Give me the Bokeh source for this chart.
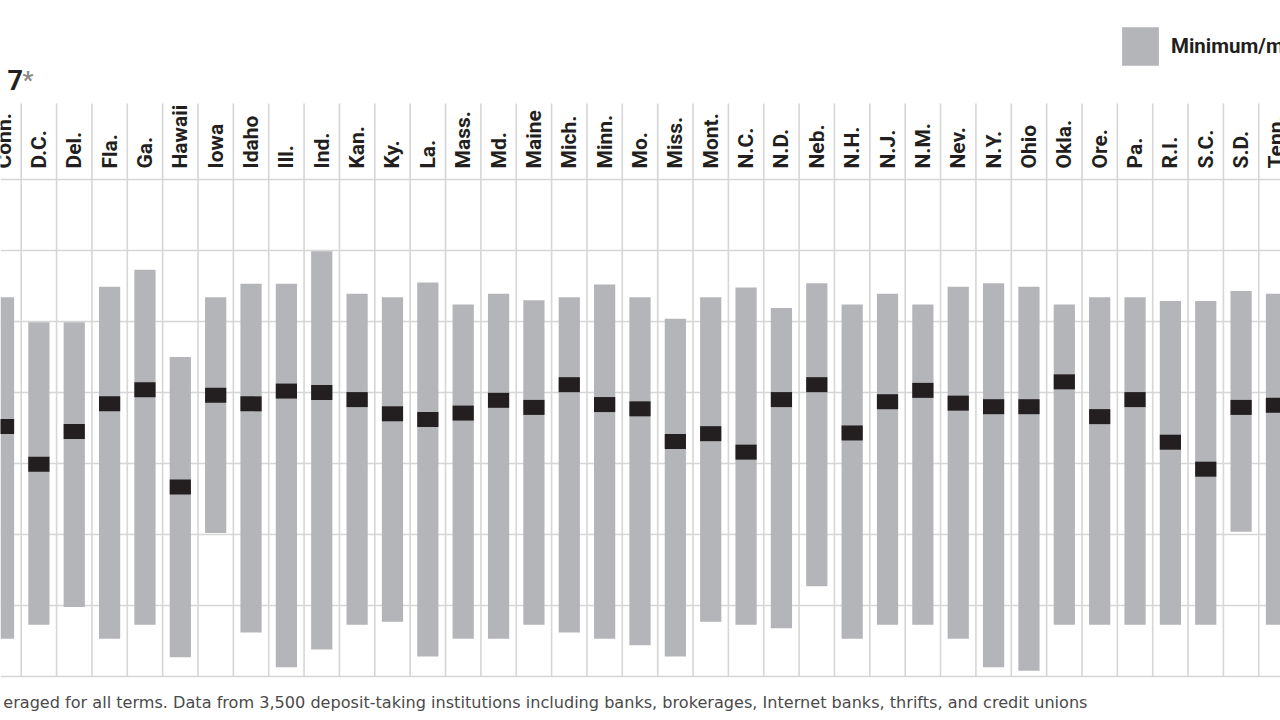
import numpy as np
from bokeh.plotting import figure
from bokeh.models import ColumnDataSource, Range1d, Grid, FixedTicker, Label, Legend, LegendItem
from bokeh.core.properties import value
from bokeh.embed import file_html
from bokeh.resources import INLINE

# ---- data (rates, %) ----
states = ["Conn.", "D.C.", "Del.", "Fla.", "Ga.", "Hawaii", "Iowa", "Idaho", "Ill.", "Ind.",
          "Kan.", "Ky.", "La.", "Mass.", "Md.", "Maine", "Mich.", "Minn.", "Mo.", "Miss.",
          "Mont.", "N.C.", "N.D.", "Neb.", "N.H.", "N.J.", "N.M.", "Nev.", "N.Y.", "Ohio",
          "Okla.", "Ore.", "Pa.", "R.I.", "S.C.", "S.D.", "Tenn."]
rate_max = [5.34, 4.99, 4.99, 5.49, 5.73, 4.50, 5.34, 5.53, 5.53, 5.99,
            5.39, 5.34, 5.55, 5.24, 5.39, 5.30, 5.34, 5.52, 5.34, 5.04,
            5.34, 5.48, 5.19, 5.54, 5.24, 5.39, 5.24, 5.49, 5.54, 5.49,
            5.24, 5.34, 5.34, 5.29, 5.29, 5.43, 5.39]
rate_min = [0.53, 0.73, 0.98, 0.53, 0.73, 0.27, 2.02, 0.62, 0.13, 0.38,
            0.73, 0.77, 0.28, 0.53, 0.53, 0.73, 0.62, 0.53, 0.44, 0.28,
            0.77, 0.73, 0.68, 1.27, 0.53, 0.73, 0.73, 0.53, 0.13, 0.08,
            0.73, 0.73, 0.73, 0.73, 0.73, 2.04, 0.73]
rate_median = [3.52, 2.99, 3.45, 3.84, 4.04, 2.67, 3.96, 3.84, 4.02, 4.00,
               3.90, 3.70, 3.62, 3.71, 3.89, 3.79, 4.11, 3.83, 3.77, 3.31,
               3.42, 3.16, 3.90, 4.11, 3.43, 3.87, 4.03, 3.85, 3.80, 3.80,
               4.15, 3.66, 3.90, 3.30, 2.92, 3.79, 3.82]
grid_levels = [0, 1, 2, 3, 4, 5, 6, 7]
title_text = "7"
title_mark = "*"
legend_label = "Minimum/maximum"
footnote = ("eraged for all terms. Data from 3,500 deposit-taking institutions including banks, "
            "brokerages, Internet banks, thrifts, and credit unions")

FONT_NAME = "Roboto"
FONT = value(FONT_NAME)
BAR = "#b4b5b8"
DARK = "#231f20"
GRID = "#d6d6d6"

idx = list(range(len(states)))
src = ColumnDataSource(dict(x=idx, state=states, top=rate_max, bottom=rate_min, med=rate_median))
edges = [i - 0.5 for i in range(len(states) + 1)]
sep = ColumnDataSource(dict(x=edges, y0=[grid_levels[0]] * len(edges), y1=[8.07] * len(edges)))

p = figure(width=1280, height=720, output_backend="svg", toolbar_location=None,
           x_range=Range1d(-0.0854, 36.114), y_range=Range1d(-0.6197, 9.521),
           x_axis_type=None, y_axis_type=None, min_border=0)
p.outline_line_color = None
p.background_fill_color = "white"
p.border_fill_color = "white"

p.add_layout(Grid(dimension=1, ticker=FixedTicker(ticks=grid_levels),
                  grid_line_color=GRID, grid_line_width=1.6))
p.segment(x0="x", x1="x", y0="y0", y1="y1", source=sep, line_color=GRID, line_width=1.6)

bars = p.vbar(x="x", width=0.6, top="top", bottom="bottom", source=src,
              fill_color=BAR, line_color=None)
p.rect(x="x", y="med", width=0.6, height=15, height_units="screen", source=src,
       fill_color=DARK, line_color=None)

p.text(x="x", y=7.155, text="state", source=src, angle=np.pi / 2,
       text_align="left", text_baseline="middle", text_font=FONT,
       text_font_style="bold", text_font_size="21px", text_color=DARK)

p.add_layout(Label(x=7, y=641, x_units="screen", y_units="screen", text=title_text,
                   text_font=FONT_NAME, text_font_style="bold", text_font_size="27px",
                   text_color=DARK, text_baseline="alphabetic"))
p.add_layout(Label(x=22, y=641, x_units="screen", y_units="screen", text=title_mark,
                   text_font=FONT_NAME, text_font_style="bold", text_font_size="24px",
                   text_color="#8a8a8a", text_baseline="alphabetic"))

p.add_layout(Label(x=1087, y=18, x_units="screen", y_units="screen", text=footnote,
                   text_font="DejaVu Sans", text_font_size="16.1px",
                   text_color="#4a4a4a", text_align="right", text_baseline="alphabetic"))

legend = Legend(items=[LegendItem(label=legend_label, renderers=[bars])],
                location=(1117, 650), orientation="horizontal",
                glyph_width=46, glyph_height=48, label_standoff=8, label_height=48,
                padding=0, margin=0, spacing=0, border_line_color=None,
                background_fill_alpha=0, label_text_font=FONT_NAME,
                label_text_font_style="bold", label_text_font_size="20.5px",
                label_text_color=DARK)
p.add_layout(legend)

open("out.html", "w").write(file_html(p, INLINE))
